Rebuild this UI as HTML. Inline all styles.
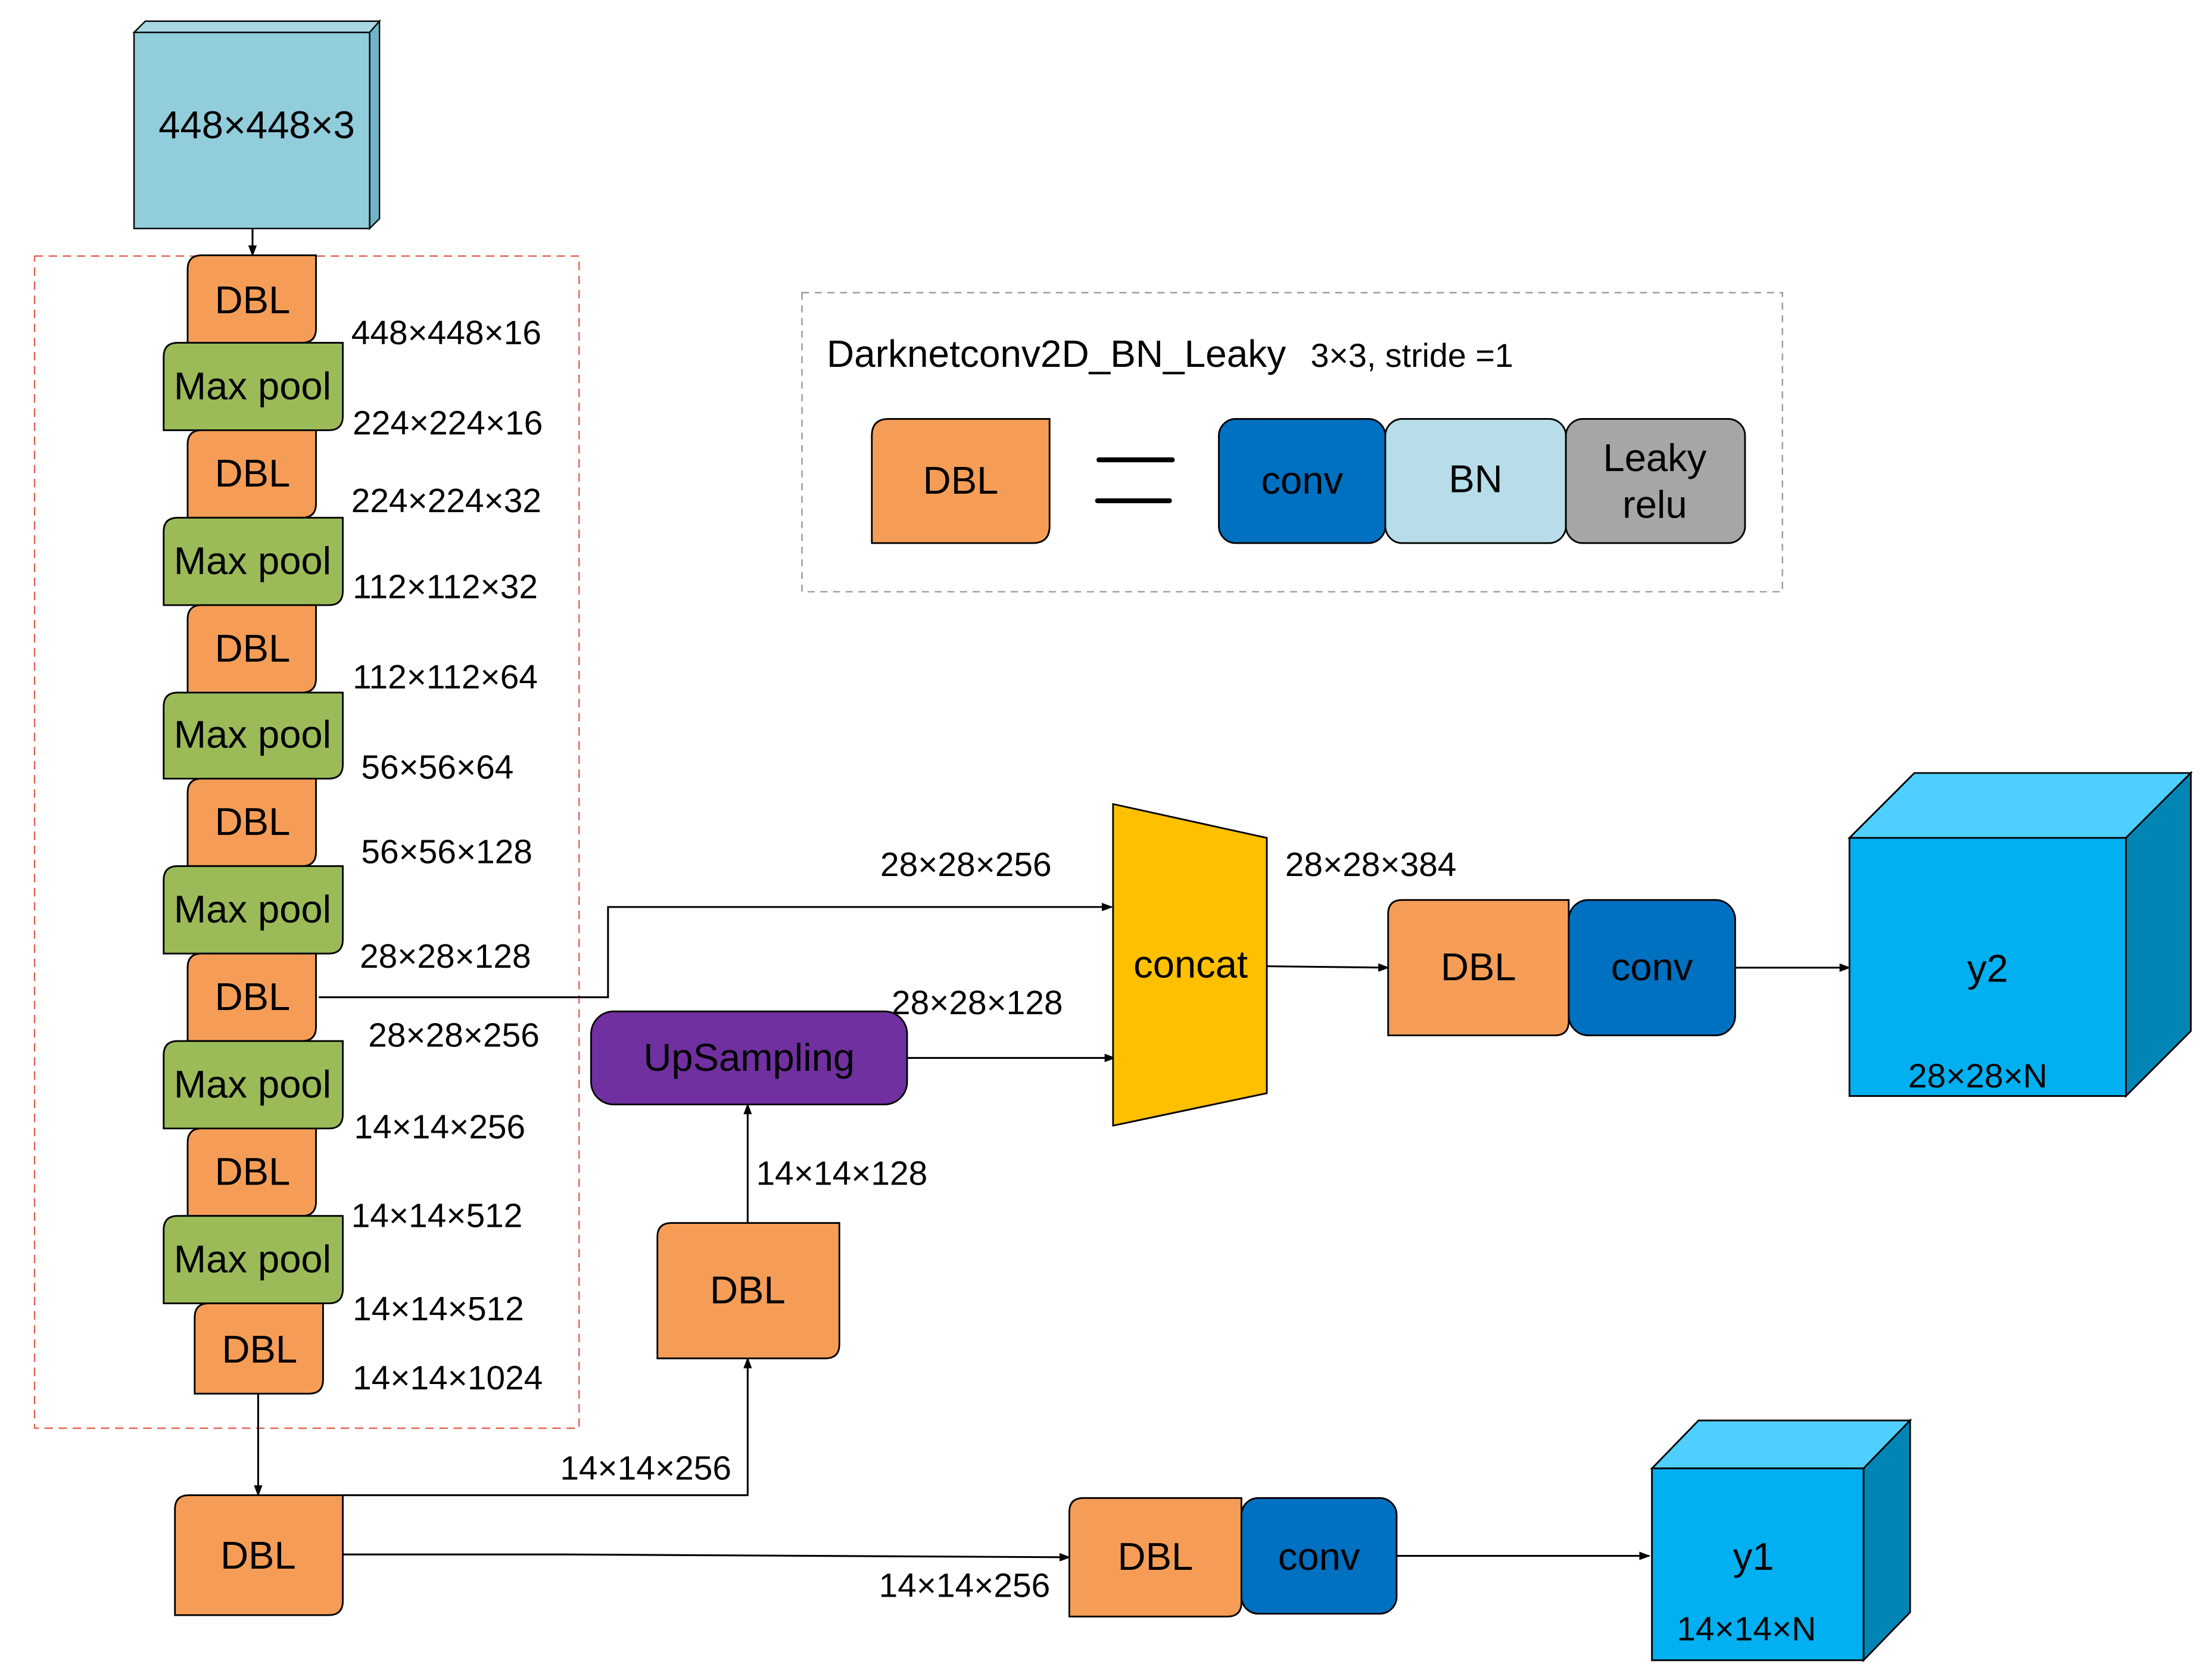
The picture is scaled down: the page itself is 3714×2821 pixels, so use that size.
<!DOCTYPE html>
<html><head><meta charset="utf-8"><style>
html,body{margin:0;padding:0;background:#fff;}
svg{display:block;}
text{font-family:"Liberation Sans",Arial,sans-serif;fill:#000;}
.n{font-size:27.5px;text-anchor:middle;}
.d{font-size:24px;}
</style></head><body>
<svg width="3714" height="2821" viewBox="0 0 1568 1191" xmlns="http://www.w3.org/2000/svg">
<defs><marker id="a" markerWidth="8" markerHeight="8" refX="7" refY="4" orient="auto" markerUnits="userSpaceOnUse"><path d="M0,1 L8,4 L0,7 Z" fill="#000"/></marker></defs>
<rect width="1568" height="1191" fill="#fff"/>

<polygon points="95,23 103,15 269,15 262,23" fill="#A8D8E4" stroke="#000" stroke-width="1"/>
<polygon points="262,23 269,15 269,155 262,162" fill="#6FB4C8" stroke="#000" stroke-width="1"/>
<rect x="95" y="23" width="167" height="139" fill="#92CDDC" stroke="#000" stroke-width="1"/>
<text x="182" y="98" class="n">448×448×3</text>
<line x1="179" y1="162" x2="179" y2="181" stroke="#000" stroke-width="1.3" marker-end="url(#a)"/>

<rect x="24.5" y="181.5" width="386" height="831" fill="none" stroke="#E06050" stroke-width="1" stroke-dasharray="6,4"/>

<g stroke="#000" stroke-width="1.2">
<path d="M143,181 H224 V233 Q224,243 214,243 H133 V191 Q133,181 143,181Z" fill="#F59D56"/>
<path d="M126,243 H243 V295 Q243,305 233,305 H116 V253 Q116,243 126,243Z" fill="#9BBB59"/>
<path d="M143,305 H224 V357 Q224,367 214,367 H133 V315 Q133,305 143,305Z" fill="#F59D56"/>
<path d="M126,367 H243 V419 Q243,429 233,429 H116 V377 Q116,367 126,367Z" fill="#9BBB59"/>
<path d="M143,429 H224 V481 Q224,491 214,491 H133 V439 Q133,429 143,429Z" fill="#F59D56"/>
<path d="M126,491 H243 V542 Q243,552 233,552 H116 V501 Q116,491 126,491Z" fill="#9BBB59"/>
<path d="M143,552 H224 V604 Q224,614 214,614 H133 V562 Q133,552 143,552Z" fill="#F59D56"/>
<path d="M126,614 H243 V666 Q243,676 233,676 H116 V624 Q116,614 126,614Z" fill="#9BBB59"/>
<path d="M143,676 H224 V728 Q224,738 214,738 H133 V686 Q133,676 143,676Z" fill="#F59D56"/>
<path d="M126,738 H243 V790 Q243,800 233,800 H116 V748 Q116,738 126,738Z" fill="#9BBB59"/>
<path d="M143,800 H224 V852 Q224,862 214,862 H133 V810 Q133,800 143,800Z" fill="#F59D56"/>
<path d="M126,862 H243 V914 Q243,924 233,924 H116 V872 Q116,862 126,862Z" fill="#9BBB59"/>
<path d="M148,924 H229 V978 Q229,988 219,988 H138 V934 Q138,924 148,924Z" fill="#F59D56"/>
</g>
<text x="179" y="222" class="n">DBL</text>
<text x="179" y="283" class="n">Max pool</text>
<text x="179" y="345" class="n">DBL</text>
<text x="179" y="407" class="n">Max pool</text>
<text x="179" y="469" class="n">DBL</text>
<text x="179" y="530" class="n">Max pool</text>
<text x="179" y="592" class="n">DBL</text>
<text x="179" y="654" class="n">Max pool</text>
<text x="179" y="716" class="n">DBL</text>
<text x="179" y="778" class="n">Max pool</text>
<text x="179" y="840" class="n">DBL</text>
<text x="179" y="902" class="n">Max pool</text>
<text x="184" y="966" class="n">DBL</text>

<text x="249" y="244" class="d">448×448×16</text>
<text x="250" y="308" class="d">224×224×16</text>
<text x="249" y="363" class="d">224×224×32</text>
<text x="250" y="424" class="d">112×112×32</text>
<text x="250" y="488" class="d">112×112×64</text>
<text x="256" y="552" class="d">56×56×64</text>
<text x="256" y="612" class="d">56×56×128</text>
<text x="255" y="686" class="d">28×28×128</text>
<text x="261" y="742" class="d">28×28×256</text>
<text x="251" y="807" class="d">14×14×256</text>
<text x="249" y="870" class="d">14×14×512</text>
<text x="250" y="936" class="d">14×14×512</text>
<text x="250" y="985" class="d">14×14×1024</text>

<g stroke="#000" stroke-width="1.3" fill="none">
<line x1="183" y1="988" x2="183" y2="1060" marker-end="url(#a)"/>
<polyline points="226,707 431,707 431,643 788,643" marker-end="url(#a)"/>
<polyline points="243,1060 530,1060 530,963" marker-end="url(#a)"/>
<line x1="530" y1="867" x2="530" y2="783" marker-end="url(#a)"/>
<line x1="643" y1="750" x2="790" y2="750" marker-end="url(#a)"/>
<line x1="898" y1="685" x2="984" y2="686" marker-end="url(#a)"/>
<line x1="1230" y1="686" x2="1311" y2="686" marker-end="url(#a)"/>
<polyline points="243,1102 400,1102 758,1104" marker-end="url(#a)"/>
<line x1="990" y1="1103" x2="1169" y2="1103" marker-end="url(#a)"/>
</g>
<text x="624" y="621" class="d">28×28×256</text>
<text x="397" y="1049" class="d">14×14×256</text>
<text x="536" y="840" class="d">14×14×128</text>
<text x="632" y="719" class="d">28×28×128</text>
<text x="911" y="621" class="d">28×28×384</text>
<text x="623" y="1132" class="d">14×14×256</text>

<g stroke="#000" stroke-width="1.2">
<path d="M134,1060 H243 V1135 Q243,1145 233,1145 H124 V1070 Q124,1060 134,1060Z" fill="#F59D56"/>
<path d="M476,867 H595 V953 Q595,963 585,963 H466 V877 Q466,867 476,867Z" fill="#F59D56"/>
<rect x="419" y="717" width="224" height="66" rx="16" fill="#7030A0"/>
<polygon points="789,570 898,594 898,775 789,798" fill="#FFC000"/>
<path d="M994,638 H1112 V724 Q1112,734 1102,734 H984 V648 Q984,638 994,638Z" fill="#F59D56"/>
<rect x="1112" y="638" width="118" height="96" rx="14" fill="#0070C0"/>
<path d="M768,1062 H880 V1136 Q880,1146 870,1146 H758 V1072 Q758,1062 768,1062Z" fill="#F59D56"/>
<rect x="880" y="1062" width="110" height="82" rx="12" fill="#0070C0"/>
<polygon points="1311,594 1357,548 1553,548 1507,594" fill="#4FCFFF"/>
<polygon points="1507,594 1553,548 1553,731 1507,777" fill="#0085B5"/>
<rect x="1311" y="594" width="196" height="183" fill="#00B0F0"/>
<polygon points="1171,1041 1204,1007 1354,1007 1321,1041" fill="#4FCFFF"/>
<polygon points="1321,1041 1354,1007 1354,1143 1321,1177" fill="#0085B5"/>
<rect x="1171" y="1041" width="150" height="136" fill="#00B0F0"/>
</g>
<text x="183" y="1112" class="n">DBL</text>
<text x="530" y="924" class="n">DBL</text>
<text x="531" y="759" class="n">UpSampling</text>
<text x="844" y="693" class="n">concat</text>
<text x="1048" y="695" class="n">DBL</text>
<text x="1171" y="695" class="n">conv</text>
<text x="819" y="1113" class="n">DBL</text>
<text x="935" y="1113" class="n">conv</text>
<text x="1409" y="696" class="n">y2</text>
<text x="1402" y="771" class="d" text-anchor="middle">28×28×N</text>
<text x="1243" y="1113" class="n">y1</text>
<text x="1238" y="1163" class="d" text-anchor="middle">14×14×N</text>

<rect x="568.5" y="207.5" width="695" height="212" fill="none" stroke="#999" stroke-width="1" stroke-dasharray="5,4"/>
<text x="586" y="260" style="font-size:27px">Darknetconv2D_BN_Leaky</text>
<text x="929" y="260" style="font-size:23.5px">3×3, stride =1</text>
<g stroke="#000" stroke-width="1.2">
<path d="M630,297 H744 V373 Q744,385 732,385 H618 V309 Q618,297 630,297Z" fill="#F59D56"/>
<rect x="864" y="297" width="118" height="88" rx="12" fill="#0070C0"/>
<rect x="982" y="297" width="128" height="88" rx="12" fill="#B7DEE8"/>
<rect x="1110" y="297" width="127" height="88" rx="12" fill="#A6A6A6"/>
</g>
<line x1="779" y1="326" x2="831" y2="326" stroke="#000" stroke-width="3.5" stroke-linecap="round"/>
<line x1="778" y1="355" x2="829" y2="355" stroke="#000" stroke-width="3.5" stroke-linecap="round"/>
<text x="681" y="350" class="n">DBL</text>
<text x="923" y="350" class="n">conv</text>
<text x="1046" y="349" class="n">BN</text>
<text x="1173" y="334" class="n">Leaky</text>
<text x="1173" y="367" class="n">relu</text>
</svg>
</body></html>
